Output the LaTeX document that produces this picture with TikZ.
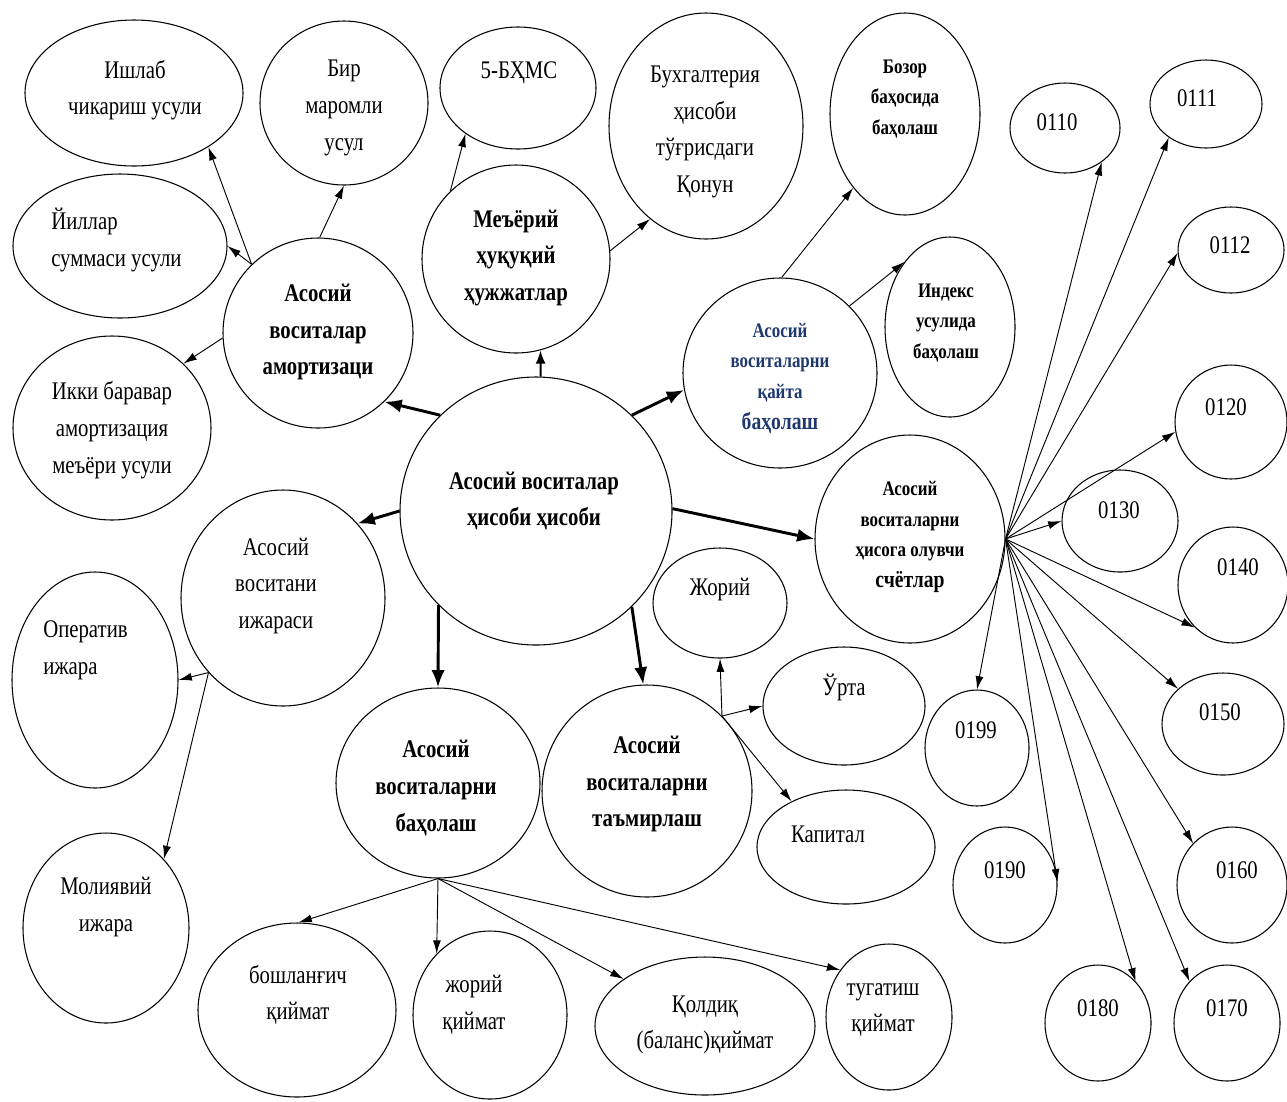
\documentclass[tikz,border=0pt]{standalone}
\usepackage{fontspec}
\setmainfont{Liberation Serif}[FakeStretch=0.82]
\usetikzlibrary{shapes.geometric,arrows.meta}
\definecolor{reval}{RGB}{31,56,110}

\begin{document}
\begin{tikzpicture}[x=0.75pt,y=0.75pt,yscale=-1,xscale=1,
	oval/.style 2 args={draw, ellipse, inner sep=0pt, line width=0.8pt, minimum width=#1*1.5pt, minimum height=#2*1.5pt},
	txt/.style={align=center, inner sep=0.75pt, font=\fontsize{19}{27.5}\selectfont},
	txtb/.style={align=center, inner sep=0.75pt, font=\fontsize{19}{27.5}\selectfont\bfseries},
	txts/.style={align=center, inner sep=0.75pt, font=\fontsize{15.5}{23}\selectfont\bfseries},
	ln/.style={line width=0.7pt, -{Latex[length=10pt,width=6pt]}},
	mid/.style={line width=1.5pt, -{Latex[length=10pt,width=7.5pt]}},
	heavy/.style={line width=2.2pt, -{Latex[length=13pt,width=10pt]}}]
	\useasboundingbox (0,0) rectangle (1287,1101);

	% ellipses
	\node [oval={109}{73}] (ishlab) at (134,93) {};
	\node [oval={84}{82}] (bir) at (344,103) {};
	\node [oval={78}{61}] (bhms) at (518,88) {};
	\node [oval={97}{113}] (buh) at (706,126) {};
	\node [oval={75}{101}] (bozor) at (905,114) {};
	\node [oval={94}{94}] (meyor) at (516,259) {};
	\node [oval={95}{95}] (amort) at (318,333) {};
	\node [oval={107}{72}] (yillar) at (120,246) {};
	\node [oval={99}{92}] (ikki) at (112,428) {};
	\node [oval={97}{95}] (kayta) at (780,373) {};
	\node [oval={65}{90}] (indeks) at (950,327) {};
	\node [oval={136}{134}] (hub) at (536,511) {};
	\node [oval={102}{108}] (ijara) at (283,598) {};
	\node [oval={83}{108}] (operativ) at (95,680) {};
	\node [oval={83}{95}] (moliya) at (106,928) {};
	\node [oval={102}{95}] (baho) at (438,783) {};
	\node [oval={105}{106}] (tamir) at (647,791) {};
	\node [oval={67}{55}] (jory) at (720,603) {};
	\node [oval={81}{59}] (urta) at (844,706) {};
	\node [oval={89}{57}] (kapital) at (846,847) {};
	\node [oval={95}{104}] (schet) at (910,539) {};
	\node [oval={99}{87}] (boshl) at (297,1010) {};
	\node [oval={77}{84}] (joriyq) at (490,1015) {};
	\node [oval={110}{69}] (qoldiq) at (705,1026) {};
	\node [oval={63}{73}] (tugat) at (889,1017) {};
	\node [oval={55}{45}] (n0110) at (1065,128) {};
	\node [oval={56}{44}] (n0111) at (1206,104) {};
	\node [oval={53}{43}] (n0112) at (1231,250) {};
	\node [oval={56}{57}] (n0120) at (1231,422) {};
	\node [oval={58}{51}] (n0130) at (1120,521) {};
	\node [oval={55}{58}] (n0140) at (1233,585) {};
	\node [oval={61}{51}] (n0150) at (1223,724) {};
	\node [oval={55}{58}] (n0160) at (1232,885) {};
	\node [oval={53}{58}] (n0170) at (1227,1023) {};
	\node [oval={53}{58}] (n0180) at (1098,1023) {};
	\node [oval={52}{58}] (n0190) at (1005,885) {};
	\node [oval={52}{58}] (n0199) at (977,748) {};

	% texts
	\node [txt] (ishlabT) at (135,90) {Ишлаб\\чикариш усули};
	\node [txt] (birT) at (344,108) {Бир\\маромли\\усул};
	\node [txt] (bhmsT) at (519,73) {5-БҲМС};
	\node [txt] (buhT) at (705,132) {Бухгалтерия\\ҳисоби\\тўғрисдаги\\Қонун};
	\node [txts] (bozorT) at (905,99) {Бозор\\баҳосида\\баҳолаш};
	\node [txtb] (meyorT) at (516,258) {Меъёрий\\ҳуқуқий\\ҳужжатлар};
	\node [txtb] (amortT) at (318,332) {Асосий\\воситалар\\амортизаци};
	\node [txts, text=reval] (kaytaT) at (780,378) {Асосий\\воситаларни\\қайта\\{\fontsize{18}{23}\selectfont баҳолаш}};
	\node [txts] (indeksT) at (946,323) {Индекс\\усулида\\баҳолаш};
	\node [txt, align=left, anchor=west] (yillarT) at (50,240) {Йиллар\\суммаси усули};
	\node [txt] (ikkiT) at (112,430) {Икки баравар\\амортизация\\меъёри усули};
	\node [txtb] (hubT) at (534,501) {Асосий воситалар\\ҳисоби ҳисоби};
	\node [txt] (ijaraT) at (276,586) {Асосий\\воситани\\ижараси};
	\node [txt, align=left, anchor=west] (operativT) at (42,650) {Оператив\\ижара};
	\node [txt] (moliyaT) at (106,907) {Молиявий\\ижара};
	\node [txtb] (bahoT) at (436,788) {Асосий\\воситаларни\\баҳолаш};
	\node [txtb] (tamirT) at (647,784) {Асосий\\воситаларни\\таъмирлаш};
	\node [txt] (joryT) at (720,590) {Жорий};
	\node [txt] (urtaT) at (844,687) {Ўрта};
	\node [txt] (kapitalT) at (828,834) {Капитал};
	\node [txts] (schetT) at (910,537) {Асосий\\воситаларни\\ҳисога олувчи\\{\fontsize{18}{23}\selectfont счётлар}};
	\node [txt] (boshlT) at (298,995) {бошланғич\\қиймат};
	\node [txt] (joriyqT) at (474,1005) {жорий\\қиймат};
	\node [txt] (qoldiqT) at (705,1025) {Қолдиқ\\(баланс)қиймат};
	\node [txt] (tugatT) at (883,1010) {тугатиш\\қиймат};
	\node [txt] (n0110T) at (1057,122) {0110};
	\node [txt] (n0111T) at (1197,98) {0111};
	\node [txt] (n0112T) at (1230,245) {0112};
	\node [txt] (n0120T) at (1226,407) {0120};
	\node [txt] (n0130T) at (1119,510) {0130};
	\node [txt] (n0140T) at (1238,567) {0140};
	\node [txt] (n0150T) at (1220,712) {0150};
	\node [txt] (n0160T) at (1237,870) {0160};
	\node [txt] (n0170T) at (1227,1008) {0170};
	\node [txt] (n0180T) at (1098,1008) {0180};
	\node [txt] (n0190T) at (1005,870) {0190};
	\node [txt] (n0199T) at (976,730) {0199};

	% branch points
	\coordinate (fan) at (schet.east);
	\coordinate (br) at (tamir.45);
	\coordinate (ijbr) at (ijara.225);

	% connectors
	\draw [heavy] (hub.135) -- (amort.-46);
	\draw [mid] (hub.88) -- (meyor.-75);
	\draw [heavy] (hub.45) -- (kayta.190);
	\draw [heavy] (hub.1) -- (schet.180);
	\draw [heavy] (hub.180) -- (ijara.45);
	\draw [heavy] (hub.-136) -- (baho.90);
	\draw [heavy] (hub.-45) -- (tamir.92);

	\draw [ln] (amort.134) -- (ishlab.-36);
	\draw [ln] (amort.134) -- (yillar.0);
	\draw [ln] (amort.89) -- (bir.-90);
	\draw [ln] (amort.183) -- (ikki.42);
	\draw [ln] (meyor.134) -- (bhms.-139);
	\draw [ln] (meyor.5) -- (buh.-121);
	\draw [ln] (kayta.89) -- (bozor.-125);
	\draw [ln] (kayta.44) -- (indeks.125);
	\draw [ln] (ijbr) -- (operativ.0);
	\draw [ln] (ijbr) -- (moliya.50);
	\draw [ln] (baho.-90) -- (boshl.89);
	\draw [ln] (baho.-90) -- (joriyq.131);
	\draw [ln] (baho.-90) -- (qoldiq.150);
	\draw [ln] (baho.-90) -- (tugat.136);
	\draw [ln] (br) -- (jory.-90);
	\draw [ln] (br) -- (urta.180);
	\draw [ln] (br) -- (kapital.140);

	\draw [ln] (fan) -- (n0110.-43);
	\draw [ln] (fan) -- (n0111.222);
	\draw [ln] (fan) -- (n0112.183);
	\draw [ln] (fan) -- (n0120.190);
	\draw [ln] (fan) -- (n0130.180);
	\draw [ln] (fan) -- (n0140.228);
	\draw [ln] (fan) -- (n0150.142);
	\draw [ln] (fan) -- (n0160.133);
	\draw [ln] (fan) -- (n0170.132);
	\draw [ln] (fan) -- (n0180.48);
	\draw [ln] (fan) -- (n0190.3);
	\draw [ln] (fan) -- (n0199.90);
\end{tikzpicture}
\end{document}
